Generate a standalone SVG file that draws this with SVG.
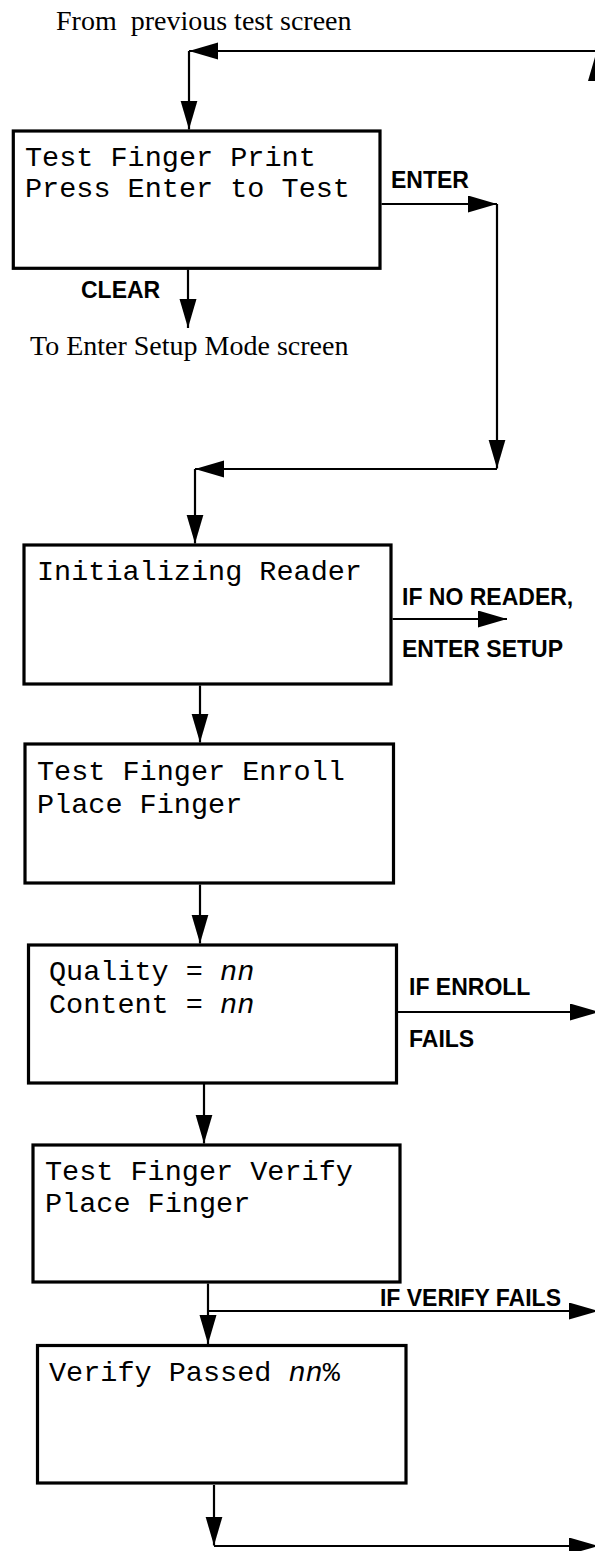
<svg xmlns="http://www.w3.org/2000/svg" width="595" height="1551" viewBox="0 0 595 1551">
  <style>
    .box { fill: #fff; stroke: #000; stroke-width: 3.2; }
    .lcd { font-family: "Liberation Mono", "Courier New", monospace; font-size: 28.5px; fill: #000; white-space: pre; }
    .em { font-style: italic; }
    .key { font-family: "Liberation Sans", Arial, sans-serif; font-weight: bold; font-size: 23px; fill: #000; }
    .note { font-family: "Liberation Serif", "Times New Roman", serif; font-size: 28px; fill: #000; white-space: pre; }
    .wire { fill: none; stroke: #000; stroke-width: 2.2; }
    .arr { marker-end: url(#head); }
  </style>
  <defs>
    <marker id="head" markerUnits="userSpaceOnUse" markerWidth="30" markerHeight="18" refX="29" refY="8.5" orient="auto">
      <path d="M0,0 L29,8.5 L0,17 z" fill="#000"/>
    </marker>
  </defs>

  <rect width="595" height="1551" fill="#fff"/>

  <!-- entry / exit notes -->
  <text class="note" x="56" y="30">From  previous test screen</text>
  <text class="note" x="30" y="355">To Enter Setup Mode screen</text>

  <!-- connectors -->
  <g id="connectors">
    <path class="wire arr" d="M597,51 H189"/>
    <path class="wire arr" d="M189,51 V129.5"/>
    <path class="wire arr" d="M596.5,100 V52"/>
    <path class="wire arr" d="M381.5,204 H497"/>
    <path class="wire arr" d="M497,204 V468.5"/>
    <path class="wire arr" d="M497,469 H195"/>
    <path class="wire arr" d="M195,469 V543.5"/>
    <path class="wire arr" d="M188,269.5 V328"/>
    <path class="wire arr" d="M392.5,619 H507"/>
    <path class="wire arr" d="M200,685.5 V742.5"/>
    <path class="wire arr" d="M200,884.5 V943.5"/>
    <path class="wire arr" d="M398,1012 H599"/>
    <path class="wire arr" d="M204,1084 V1143.5"/>
    <path class="wire arr" d="M208,1283.5 V1344"/>
    <path class="wire arr" d="M208,1311 H598"/>
    <path class="wire arr" d="M214,1485 V1545.5"/>
    <path class="wire arr" d="M214,1546 H598"/>
  </g>

  <!-- connector labels -->
  <g id="labels">
    <text class="key" x="391" y="188">ENTER</text>
    <text class="key" x="81" y="298">CLEAR</text>
    <text class="key" x="402" y="605">IF NO READER,</text>
    <text class="key" x="402" y="657">ENTER SETUP</text>
    <text class="key" x="409" y="995">IF ENROLL</text>
    <text class="key" x="409" y="1047">FAILS</text>
    <text class="key" x="561" y="1306" text-anchor="end">IF VERIFY FAILS</text>
  </g>

  <!-- screens -->
  <g id="screen-test-print">
    <rect class="box" x="13.3" y="131" width="366.7" height="137.3"/>
    <text class="lcd" x="25" y="166">Test Finger Print</text>
    <text class="lcd" x="25" y="197">Press Enter to Test</text>
  </g>

  <g id="screen-init-reader">
    <rect class="box" x="24" y="545" width="367" height="139"/>
    <text class="lcd" x="37" y="580">Initializing Reader</text>
  </g>

  <g id="screen-enroll">
    <rect class="box" x="25" y="744" width="368.5" height="139"/>
    <text class="lcd" x="37" y="780">Test Finger Enroll</text>
    <text class="lcd" x="37" y="812.5">Place Finger</text>
  </g>

  <g id="screen-quality">
    <rect class="box" x="28.5" y="945" width="368" height="138"/>
    <text class="lcd" x="49" y="980">Quality = <tspan class="em">nn</tspan></text>
    <text class="lcd" x="49" y="1012.5">Content = <tspan class="em">nn</tspan></text>
  </g>

  <g id="screen-verify">
    <rect class="box" x="33" y="1145" width="367" height="137"/>
    <text class="lcd" x="45" y="1180">Test Finger Verify</text>
    <text class="lcd" x="45" y="1211.5">Place Finger</text>
  </g>

  <g id="screen-passed">
    <rect class="box" x="37.5" y="1345.5" width="368.5" height="137.5"/>
    <text class="lcd" x="49" y="1381">Verify Passed <tspan class="em">nn</tspan>%</text>
  </g>
</svg>
